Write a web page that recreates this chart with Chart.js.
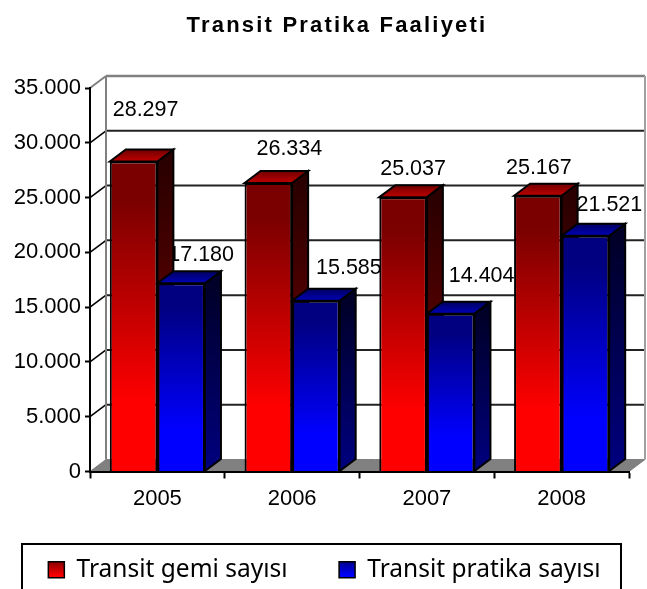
<!DOCTYPE html>
<html lang="en">
<head>
  <meta charset="UTF-8" />
  <title>Transit Pratika Faaliyeti</title>
  <script src="https://cdn.jsdelivr.net/npm/chart.js"></script>
  <style>
    body { margin: 0; background: #fff; }
    canvas { display: block; }
  </style>
</head>
<body>
  <canvas id="chart" width="647" height="589"></canvas>
  <script>
    const years = ['2005', '2006', '2007', '2008'];
    const gemiValues = [28297, 26334, 25037, 25167];
    const pratikaValues = [17180, 15585, 14404, 21521];
    const seriesNames = ['Transit gemi sayısı', 'Transit pratika sayısı'];
    const chartTitle = 'Transit Pratika Faaliyeti';

    const depthX = 16;
    const depthY = 12;
    const textFont = '21.5px "Liberation Sans", Arial, sans-serif';

    // the value labels were moved by hand in the original, so they are offset from each bar top
    const labelOffsets = [
      [[12, -51], [20, -28]],
      [[21, -34], [33, -33]],
      [[10, -28], [31, -38]],
      [[1, -28], [24, -31]]
    ];

    const colors = [
      { dark: '#7a0000', bright: '#ff0000', capTop: '#700000', cap: '#c00000', sideTop: '#2a0000', sideBottom: '#800000' },
      { dark: '#000080', bright: '#0000ff', capTop: '#000060', cap: '#0000b8', sideTop: '#000028', sideBottom: '#000080' }
    ];

    function barGradient(context, palette) {
      const chart = context.chart;
      const yScale = chart.scales.y;
      if (!yScale || context.raw === undefined) return palette.bright;
      const top = yScale.getPixelForValue(context.raw);
      const bottom = yScale.getPixelForValue(0);
      const g = chart.ctx.createLinearGradient(0, top, 0, bottom);
      g.addColorStop(0, palette.dark);
      g.addColorStop(0.12, palette.dark);
      g.addColorStop(0.78, palette.bright);
      g.addColorStop(1, palette.bright);
      return g;
    }

    function polygon(ctx, pts, fill, stroke, width) {
      ctx.beginPath();
      pts.forEach((p, i) => i ? ctx.lineTo(p[0], p[1]) : ctx.moveTo(p[0], p[1]));
      ctx.closePath();
      ctx.fillStyle = fill;
      ctx.fill();
      ctx.lineWidth = width;
      ctx.strokeStyle = stroke;
      ctx.stroke();
    }

    function line(ctx, x1, y1, x2, y2, color, width) {
      ctx.beginPath();
      ctx.moveTo(x1, y1);
      ctx.lineTo(x2, y2);
      ctx.strokeStyle = color;
      ctx.lineWidth = width;
      ctx.stroke();
    }

    const walls3d = {
      id: 'walls3d',
      afterLayout(chart) {
        // tick labels get clipped to the scale box, let it reach the page edge
        chart.scales.y.left = 0;
      },
      beforeDraw(chart) {
        const ctx = chart.ctx;
        const { left, right, top, bottom } = chart.chartArea;
        ctx.save();
        ctx.fillStyle = '#fff';
        ctx.fillRect(0, 0, chart.width, chart.height);
        // floor
        polygon(ctx, [[left, bottom], [left + depthX, bottom - depthY], [right + depthX, bottom - depthY], [right, bottom]], '#808080', '#808080', 1);
        // gridlines, going back from the axis then along the wall
        chart.scales.y.ticks.forEach(t => {
          const y = chart.scales.y.getPixelForValue(t.value);
          if (t.value === 0 || y === top) return;
          line(ctx, left, y, left + depthX, y - depthY, '#000', 1.5);
          line(ctx, left + depthX, y - depthY, right + depthX, y - depthY, '#222', 2);
        });
        // wall frame
        line(ctx, left + depthX, top - depthY, left + depthX, bottom - depthY, '#808080', 2);
        line(ctx, left + depthX, top - depthY, right + depthX, top - depthY, '#808080', 2.5);
        line(ctx, right + depthX, top - depthY, right + depthX, bottom - depthY, '#a0a0a0', 2);
        line(ctx, left, top, left + depthX, top - depthY, '#808080', 2);
        ctx.restore();
      },
      beforeDatasetsDraw(chart) {
        const ctx = chart.ctx;
        ctx.save();
        // labels sit behind the bars, like in the original
        ctx.font = textFont;
        ctx.fillStyle = '#000';
        ctx.textAlign = 'center';
        ctx.textBaseline = 'middle';
        chart.data.datasets.forEach((ds, d) => {
          chart.getDatasetMeta(d).data.forEach((bar, i) => {
            const off = labelOffsets[i][d];
            ctx.fillText(ds.data[i].toLocaleString('de-DE'), bar.x + off[0], bar.y + off[1]);
          });
        });
        ctx.lineJoin = 'miter';
        chart.data.datasets.forEach((ds, d) => {
          const c = colors[d];
          chart.getDatasetMeta(d).data.forEach(bar => {
            const l = bar.x - bar.width / 2;
            const r = bar.x + bar.width / 2;
            const sideGrad = ctx.createLinearGradient(0, bar.y, 0, bar.base);
            sideGrad.addColorStop(0, c.sideTop);
            sideGrad.addColorStop(1, c.sideBottom);
            polygon(ctx, [[r, bar.y], [r + depthX, bar.y - depthY], [r + depthX, bar.base - depthY], [r, bar.base]], sideGrad, '#000', 2);
            const capGrad = ctx.createLinearGradient(0, bar.y - depthY, 0, bar.y);
            capGrad.addColorStop(0, c.capTop);
            capGrad.addColorStop(1, c.cap);
            polygon(ctx, [[l, bar.y], [l + depthX, bar.y - depthY], [r + depthX, bar.y - depthY], [r, bar.y]], capGrad, '#000', 2);
          });
        });
        ctx.restore();
      },
      afterDraw(chart) {
        const ctx = chart.ctx;
        ctx.save();
        ctx.font = 'bold 22px "Liberation Sans", Arial, sans-serif';
        ctx.letterSpacing = '2.2px';
        ctx.fillStyle = '#000';
        ctx.textAlign = 'center';
        ctx.textBaseline = 'middle';
        ctx.fillText(chartTitle, 337, 26);
        ctx.restore();
        // legend frame, cut by the bottom of the picture
        ctx.save();
        ctx.strokeStyle = '#000';
        ctx.lineWidth = 2;
        ctx.strokeRect(22, 544, 599, 60);
        ctx.restore();
      }
    };

    new Chart(document.getElementById('chart'), {
      type: 'bar',
      data: {
        labels: years,
        datasets: [
          { label: seriesNames[0], data: gemiValues, backgroundColor: c => barGradient(c, colors[0]) },
          { label: seriesNames[1], data: pratikaValues, backgroundColor: c => barGradient(c, colors[1]) }
        ]
      },
      options: {
        responsive: false,
        animation: false,
        layout: { padding: { top: 88, left: 20, right: 18, bottom: -3 } },
        datasets: {
          bar: { categoryPercentage: 0.706, barPercentage: 1, borderColor: '#000', borderWidth: 2 }
        },
        scales: {
          x: {
            afterFit: s => { s.height = 60; },
            grid: { drawOnChartArea: false, tickColor: '#000', tickWidth: 2, tickLength: 7 },
            border: { color: '#000', width: 2 },
            ticks: { color: '#000', padding: 7, font: { family: '"Liberation Sans"', size: 22 } }
          },
          y: {
            min: 0,
            max: 35000,
            afterFit: s => { s.width = 70; },
            grid: { drawOnChartArea: false, tickColor: '#000', tickWidth: 2, tickLength: 5 },
            border: { color: '#000', width: 2 },
            ticks: {
              stepSize: 5000,
              color: '#000',
              padding: 4,
              font: { family: '"Liberation Sans"', size: 22 },
              callback: v => v.toLocaleString('de-DE')
            }
          }
        },
        plugins: {
          tooltip: { enabled: false },
          legend: {
            position: 'bottom',
            labels: {
              color: '#000',
              boxWidth: 16,
              boxHeight: 16,
              padding: 26,
              font: { family: '"Noto Sans"', size: 24.5 },
              generateLabels(chart) {
                return seriesNames.map((name, i) => {
                  const g = chart.ctx.createLinearGradient(0, 560, 0, 576);
                  g.addColorStop(0, colors[i].dark);
                  g.addColorStop(1, colors[i].bright);
                  // trailing spaces widen the gap between the two entries
                  return { text: i === 0 ? name + '    ' : name, fillStyle: g, strokeStyle: '#000', lineWidth: 1.5, datasetIndex: i };
                });
              }
            }
          }
        }
      },
      plugins: [walls3d]
    });
  </script>
</body>
</html>
